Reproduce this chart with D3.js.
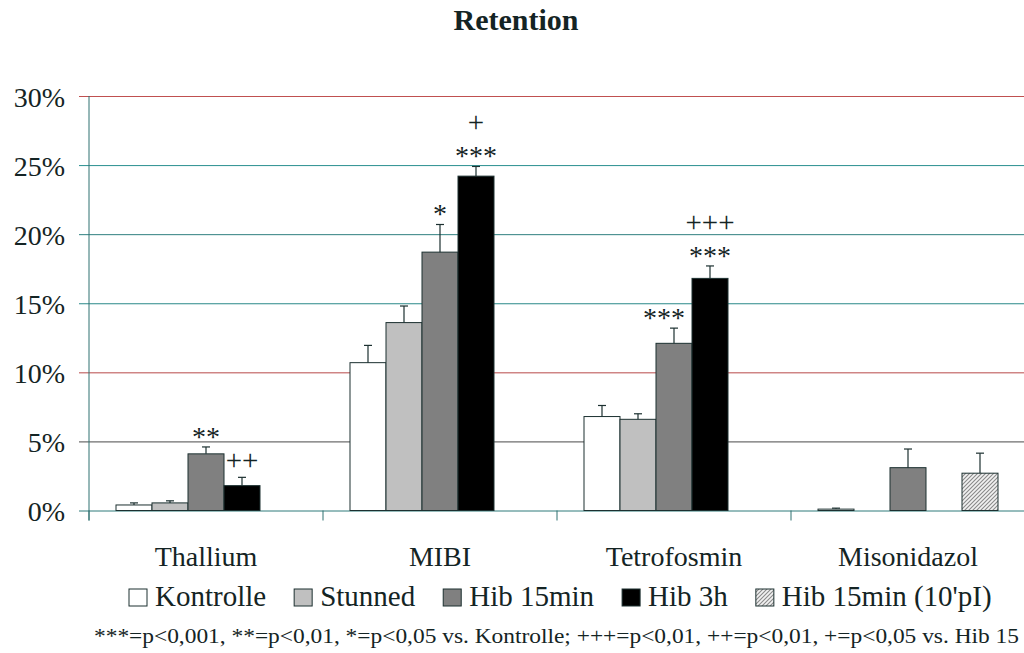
<!DOCTYPE html>
<html><head><meta charset="utf-8">
<script src="https://cdn.jsdelivr.net/npm/d3@7"></script>
<style>
html,body{margin:0;padding:0;background:#fff;}
text{font-family:"Liberation Serif","Times New Roman",serif;fill:#142424;}
</style></head>
<body><svg id="c" width="1024" height="653"></svg>
<script>
const categories = ["Thallium","MIBI","Tetrofosmin","Misonidazol"];
const seriesNames = ["Kontrolle","Stunned","Hib 15min","Hib 3h","Hib 15min (10'pI)"];
const kontrolle = [0.4, 10.7, 6.8, 0.1];
const stunned   = [0.55, 13.6, 6.6, null];
const hib15     = [4.1, 18.7, 12.1, 3.1];
const hib3h     = [1.8, 24.2, 16.8, null];
const hib15pI   = [null, null, null, 2.7];
const kontrolleErr = [0.15, 1.25, 0.8, 0.07];
const stunnedErr   = [0.15, 1.2, 0.4, null];
const hib15Err     = [0.5, 2.0, 1.1, 1.35];
const hib3hErr     = [0.6, 0.7, 0.9, null];
const hib15pIErr   = [null, null, null, 1.45];
const starsHib15 = ["**", "*", "***", ""];
const starsHib3h = ["", "***", "***", ""];
const plusHib3h  = ["++", "+", "+++", ""];
const yTicks = [0, 5, 10, 15, 20, 25, 30];
const gridColors = ["#2f7a7a", "#4a4a4a", "#b84a4a", "#2a8888", "#2f7f7f", "#2a9090", "#c05050"];
const title = "Retention";
const footnote = "***=p<0,001, **=p<0,01, *=p<0,05 vs. Kontrolle; +++=p<0,01, ++=p<0,01, +=p<0,05 vs. Hib 15";

(function(){
const values = [kontrolle, stunned, hib15, hib3h, hib15pI];
const errors = [kontrolleErr, stunnedErr, hib15Err, hib3hErr, hib15pIErr];
const fills = ["#ffffff", "#c0c0c0", "#808080", "#000000", "url(#hatch)"];
const stroke = "#1c3030";

const svg = d3.select("#c");
const defs = svg.append("defs");
const pat = defs.append("pattern").attr("id","hatch").attr("patternUnits","userSpaceOnUse")
  .attr("width",4).attr("height",4);
pat.append("rect").attr("width",4).attr("height",4).attr("fill","#f2f2f2");
pat.append("path").attr("d","M-1,1 l2,-2 M0,4 l4,-4 M3,5 l2,-2").attr("stroke","#8a8a8a").attr("stroke-width",1.1);

const mLeft = 89, mRight = 1025, mTop = 96, mBottom = 510.5;
const x0 = d3.scaleBand().domain(categories).range([mLeft, mRight]).paddingInner(0).paddingOuter(0);
const x1 = d3.scaleBand().domain(seriesNames).range([27, x0.bandwidth()-27]);
const y = d3.scaleLinear().domain([0, 30]).range([mBottom, mTop]);

const yAxis = d3.axisLeft(y).tickValues(yTicks).tickFormat(d => d + "%").tickSize(10).tickPadding(14);
const ga = svg.append("g").attr("transform", `translate(${mLeft},0)`).call(yAxis);
ga.select(".domain").remove();
ga.attr("font-family", null);
ga.selectAll(".tick line").attr("stroke", (d,i) => gridColors[i]).attr("x2", mRight - mLeft).attr("x1", -10);
ga.selectAll(".tick text").attr("font-size", 28).attr("fill","#142424")
  .attr("dy", null).attr("y", 10).attr("x", -24);

const groups = svg.append("g").selectAll("g").data(categories).join("g")
  .attr("transform", d => `translate(${x0(d)},0)`);
seriesNames.forEach((s, si) => {
  groups.each(function(c, ci){
    const v = values[si][ci];
    if (v == null) return;
    const g = d3.select(this);
    const bx = x1(s), bw = x1.bandwidth();
    g.append("rect").attr("x", bx).attr("y", y(v)).attr("width", bw).attr("height", y(0) - y(v))
      .attr("fill", fills[si]).attr("stroke", stroke).attr("stroke-width", 1);
    const e = errors[si][ci];
    if (e != null) {
      const cx = bx + bw/2;
      g.append("line").attr("x1", cx).attr("x2", cx).attr("y1", y(v)).attr("y2", y(v+e)).attr("stroke", stroke).attr("stroke-width",1.2);
      g.append("line").attr("x1", cx-4).attr("x2", cx+4).attr("y1", y(v+e)).attr("y2", y(v+e)).attr("stroke", stroke).attr("stroke-width",1.2);
    }
  });
});

function annotate(si, starArr, plusArr) {
  categories.forEach((c, ci) => {
    const v = values[si][ci]; if (v == null) return;
    const errTop = y(v + (errors[si][ci] || 0));
    const bx = x0(c) + x1(seriesNames[si]);
    const cx = bx + x1.bandwidth()/2;
    let center = errTop - 14;
    const st = starArr ? starArr[ci] : "";
    if (st) {
      const t = svg.append("text").attr("x", cx).attr("y", center + 13).attr("text-anchor","middle").attr("font-size", 28).text(st);
      const nv = values[si+1] ? values[si+1][ci] : null;
      const w = t.node().getComputedTextLength();
      const nextX = bx + x1.bandwidth();
      if (nv != null && y(nv) < center + 13 && cx + w/2 > nextX - 7) {
        t.attr("x", nextX - 7 - w/2);
      }
      center -= 27;
    }
    const pl = plusArr ? plusArr[ci] : "";
    if (pl) {
      svg.append("text").attr("x", cx).attr("y", center + 7).attr("text-anchor","middle").attr("font-size", 29).text(pl);
    }
  });
}
annotate(2, starsHib15, null);
annotate(3, starsHib3h, plusHib3h);

svg.append("line").attr("x1", mLeft).attr("x2", mLeft).attr("y1", mTop).attr("y2", mBottom + 10).attr("stroke", "#2f7070");
svg.selectAll(".ctick").data(d3.range(categories.length + 1)).join("line")
  .attr("x1", i => mLeft + i * x0.bandwidth()).attr("x2", i => mLeft + i * x0.bandwidth())
  .attr("y1", mBottom).attr("y2", mBottom + 10).attr("stroke", "#2f7070");
svg.selectAll(".clabel").data(categories).join("text")
  .attr("x", d => x0(d) + x0.bandwidth()/2).attr("y", 566).attr("text-anchor","middle").attr("font-size", 28).text(d => d);

svg.append("text").attr("x", 516).attr("y", 30).attr("text-anchor","middle").attr("font-size", 30).attr("font-weight","bold").text(title);

let lx = 129;
seriesNames.forEach((s, si) => {
  svg.append("rect").attr("x", lx).attr("y", 589).attr("width", 18).attr("height", 17)
    .attr("fill", fills[si]).attr("stroke", stroke).attr("stroke-width", 1);
  const t = svg.append("text").attr("x", lx + 26).attr("y", 606).attr("font-size", 29).text(s);
  lx += 26 + t.node().getComputedTextLength() + 28;
});

svg.append("text").attr("x", 94).attr("y", 643).attr("font-size", 21)
  .attr("textLength", 925).attr("lengthAdjust", "spacingAndGlyphs").text(footnote);
})();
</script></body></html>
